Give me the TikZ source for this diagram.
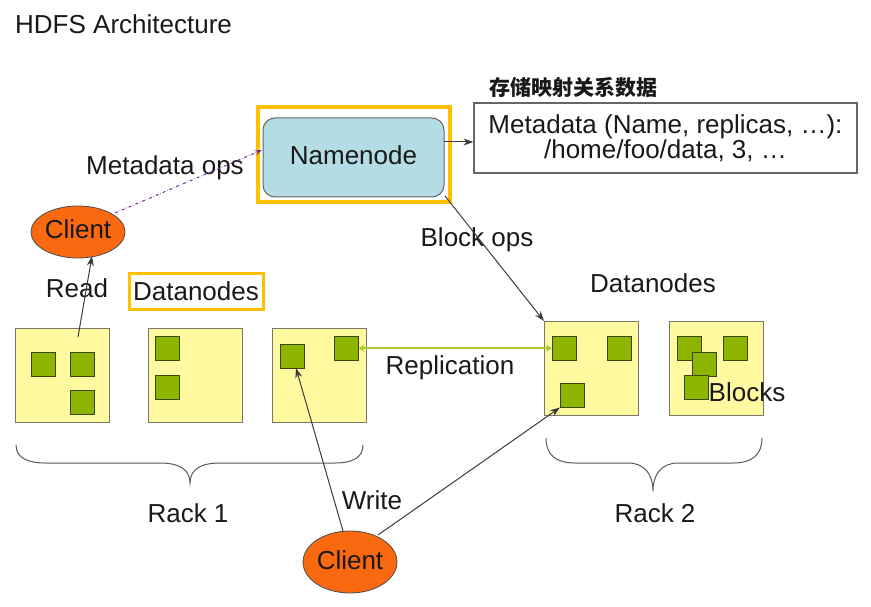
\documentclass[tikz,border=0pt]{standalone}
\usepackage{fontspec}
\setmainfont{Liberation Sans}
\newfontfamily\cjk{Noto Sans CJK SC}
\usetikzlibrary{shapes.geometric,arrows.meta}
\definecolor{dnfill}{RGB}{255,250,160}
\definecolor{dnline}{RGB}{120,120,110}
\definecolor{blkfill}{RGB}{140,180,0}
\definecolor{blkline}{RGB}{60,70,20}
\definecolor{clfill}{RGB}{250,105,15}
\definecolor{nnfill}{RGB}{180,220,228}
\definecolor{hl}{RGB}{255,192,0}
\definecolor{repc}{RGB}{170,200,50}
\definecolor{mdc}{RGB}{112,48,160}
\definecolor{conn}{RGB}{60,60,60}
\begin{document}
\begin{tikzpicture}[x=1pt,y=-1pt,
  every node/.style={font=\fontsize{26}{25}\selectfont, text=black!90, inner sep=0pt},
  txt/.style={text height=18pt, text depth=4pt},
  dn/.style={draw=dnline, fill=dnfill, line width=1.2pt, minimum width=94pt, minimum height=94pt, anchor=north west},
  blk/.style={draw=blkline, fill=blkfill, line width=1pt, minimum size=23.5pt, anchor=north west},
  client/.style={ellipse, draw=black!70, fill=clfill, line width=0.8pt, minimum width=94pt, minimum height=52pt, txt},
  arr/.style={draw=conn, line width=1pt, -{Stealth[length=10pt,width=7pt]}},
  hlbox/.style={draw=hl, line width=4pt},
  brace/.style={draw=black!65, line width=1pt}
]
\useasboundingbox (0,0) rectangle (871,607);

% title
\node[anchor=west, txt] (title) at (15,27) {HDFS Architecture};

% namenode
\node[draw=black!60, fill=nnfill, rounded corners=12pt, minimum width=181pt, minimum height=79pt, line width=1pt, txt] (nn) at (353.5,157.5) {Namenode};
\node[hlbox, minimum width=192pt, minimum height=95pt] (hlnn) at (354,154.5) {};

% metadata
\node[draw=black!60, line width=1.2pt, minimum width=383pt, minimum height=70pt, align=center] (md) at (665.5,138) {Metadata (Name, replicas, …):\\/home/foo/data, 3, …};
\node[font={\fontsize{21}{25}\cjk\bfseries}] (zh) at (573.5,87) {存储映射关系数据};

% clients
\node[client] (c1) at (78,232) {Client};
\node[client, minimum height=62pt] (c2) at (350,562) {Client};

% datanodes
\node[dn] (d1) at (15,328) {};
\node[dn] (d2) at (148,328) {};
\node[dn] (d3) at (272,328) {};
\node[dn] (d4) at (544,321) {};
\node[dn] (d5) at (669,321) {};

% blocks
\node[blk] (b11) at (31,352) {};
\node[blk] (b12) at (70,352) {};
\node[blk] (b13) at (70,390) {};
\node[blk] (b21) at (155,336) {};
\node[blk] (b22) at (155,375) {};
\node[blk] (b31) at (280,344) {};
\node[blk] (b32) at (334,336) {};
\node[blk] (b41) at (552,336) {};
\node[blk] (b42) at (607,336) {};
\node[blk] (b43) at (560,383) {};
\node[blk] (b51) at (677,336) {};
\node[blk] (b52) at (723,336) {};
\node[blk] (b53) at (692,352) {};
\node[blk] (b54) at (684,375) {};

% labels
\node[txt] (lmeta) at (165,168) {Metadata ops};
\node[txt] (lread) at (77,290) {Read};
\node[txt] (ldn1) at (196,293) {Datanodes};
\node[draw=hl, line width=3pt, minimum width=134pt, minimum height=36pt] (hldn) at (196.5,291.5) {};
\node[txt] (ldn2) at (653,285) {Datanodes};
\node[txt] (lblock) at (477,240) {Block ops};
\node[txt] (lrep) at (450,367) {Replication};
\node[txt] (lblocks) at (747,394) {Blocks};
\node[txt] (lr1) at (188,515) {Rack 1};
\node[txt] (lr2) at (655,515) {Rack 2};
\node[txt] (lwrite) at (372,502) {Write};

% connectors
\coordinate (rs) at (78,337);
\coordinate (rt) at (92,256);
\draw[arr] (rs) -- (rt);

\coordinate (mo1) at (115,213);
\coordinate (mo2) at (262,150);
\draw[mdc, dash dot, line width=1pt, -{Stealth[length=7pt,width=5pt]}] (mo1) -- (mo2);

\coordinate (na) at (444,142);
\draw[arr] (na) -- (na -| md.west);

\coordinate (bo) at (445,196);
\draw[arr] (bo) -- (d4.north west);

\draw[repc, line width=2pt, {Stealth[length=6pt,width=7pt]}-{Stealth[length=6pt,width=7pt]}] (b32.east) -- (b41.west);

\coordinate (w1) at (343,531);
\coordinate (w1t) at (296,368);
\draw[arr] (w1) -- (w1t);
\coordinate (w2) at (378,535);
\draw[arr] (w2) -- (b43.south west);

% braces
\draw[brace] (16,445) .. controls (16,458) and (28,463) .. (45,463) -- (160,463) .. controls (180,463) and (190,470) .. (190,483) .. controls (190,470) and (200,463) .. (220,463) -- (335,463) .. controls (352,463) and (363,458) .. (363,445);
\draw[brace] (546,438) .. controls (546,455) and (556,463) .. (575,463) -- (628,463) .. controls (645,463) and (653,475) .. (653,491) .. controls (653,475) and (661,463) .. (678,463) -- (733,463) .. controls (752,463) and (762,455) .. (762,438);
\end{tikzpicture}
\end{document}
